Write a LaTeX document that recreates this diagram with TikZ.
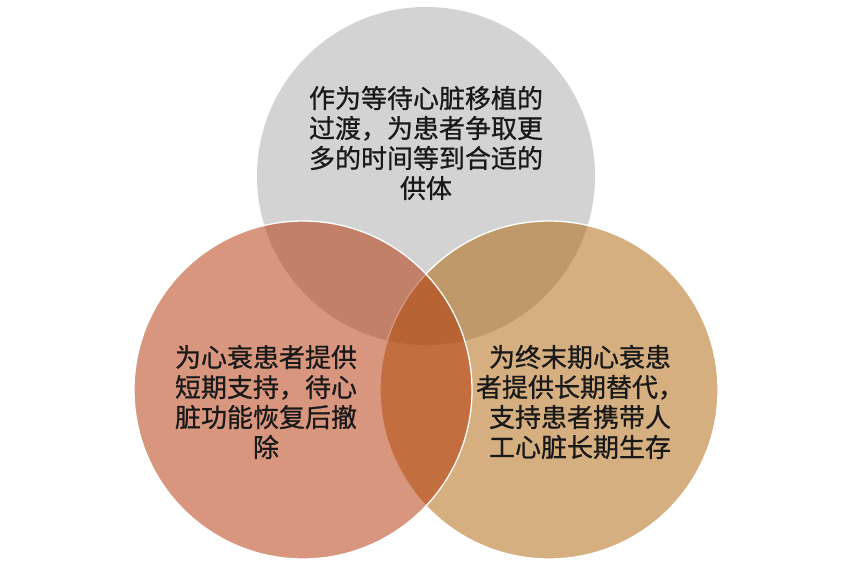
\documentclass[tikz,border=0pt]{standalone}
\usepackage{fontspec}
\newfontfamily\cjk[FakeBold=0.8]{Noto Sans CJK SC}
\definecolor{topgray}{RGB}{211,211,211}
\definecolor{rightc}{RGB}{173,97,0}
\definecolor{leftc}{RGB}{179,47,0}
\tikzset{
  venn/.style={circle, minimum size=338pt, inner sep=0pt, outer sep=0pt},
  vtext/.style={align=center, font=\cjk\fontsize{26}{30}\selectfont, text=black!90, inner sep=0pt}
}
\begin{document}
\begin{tikzpicture}[x=1pt,y=-1pt]
\useasboundingbox (0,0) rectangle (853,569);
\fill[white] (0,0) rectangle (853,569);
\node[venn, fill=topgray] (top) at (426,176) {};
\node[venn, fill=rightc, fill opacity=0.5, draw=white, line width=1.3pt] (right) at (549,390) {};
\node[venn, fill=leftc, fill opacity=0.5, draw=white, line width=1.3pt] (left) at (303,390) {};
\node[vtext] (ttop) at (426,143) {作为等待心脏移植的\\过渡，为患者争取更\\多的时间等到合适的\\供体};
\node[vtext] (tleft) at (266,402) {为心衰患者提供\\短期支持，待心\\脏功能恢复后撤\\除};
\node[vtext] (tright) at (580,402) {为终末期心衰患\\者提供长期替代，\\支持患者携带人\\工心脏长期生存};
\end{tikzpicture}
\end{document}
